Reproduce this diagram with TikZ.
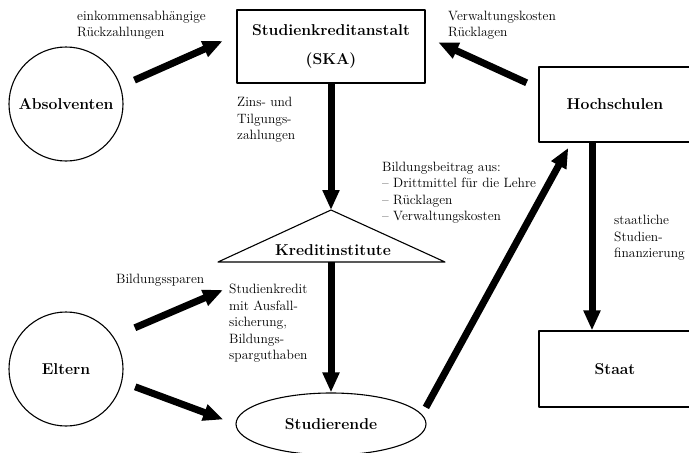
\documentclass[tikz,border=0pt]{standalone}
\usetikzlibrary{arrows.meta,shapes.geometric}
\newcommand{\klein}{\fontsize{13.5}{16.5}\selectfont}
\newcommand{\fett}{\fontsize{15.7}{29}\selectfont\bfseries}

\begin{document}
\begin{tikzpicture}[line join=round,x=1pt,y=-1pt,
  kasten/.style={draw,line width=1.1pt,inner sep=0pt,align=center},
  kreis/.style={draw,circle,line width=1.1pt,inner sep=0pt,minimum size=114pt},
  fluss/.style={line width=7pt,line cap=butt,-{Triangle[width=16pt,length=20pt]}},
  notiz/.style={anchor=west,align=left,inner sep=0pt,font=\klein}]
\useasboundingbox (0,0) rectangle (689,453);
\clip (0,0) rectangle (689,453);
%\draw [color=lightgray,step=50] (0,0) grid (689,453);
\node[kasten,minimum width=188pt,minimum height=73pt,font=\fett] (ska) at (331,46.5) {Studienkreditanstalt\\(SKA)};
\node[kasten,minimum width=152pt,minimum height=75pt,font=\fett] (hoch) at (615,104.5) {Hochschulen};
\node[kasten,minimum width=152pt,minimum height=76pt,font=\fett] (staat) at (615,369) {Staat};
\node[kreis,font=\fett] (absolv) at (66,104) {Absolventen};
\node[kreis,font=\fett] (eltern) at (66,369) {Eltern};
\node[draw,ellipse,line width=1.1pt,inner sep=0pt,minimum width=190pt,minimum height=62pt,font=\fett] (stud) at (331,424) {Studierende};
% Kreditinstitute als Dreieck
\coordinate (kapex) at (331,210);
\coordinate (kbase) at (331,262);
\draw[line width=1.1pt] (kapex) -- (218,262) -- (445,262) -- cycle;
\node[inner sep=0pt,font=\fett] (kredit) at (333,250) {Kreditinstitute};
\coordinate (sparziel) at (223,290);
\draw[fluss,shorten <=15pt,shorten >=15pt] (absolv.18) -- (ska.173);
\draw[fluss,shorten <=13pt,shorten >=14pt] (hoch.168) -- (ska.6);
\draw[fluss] (ska.south) -- (kapex);
\draw[fluss] (kbase) -- (stud.north);
\draw[fluss,shorten <=23pt] (eltern.34) -- (sparziel);
\draw[fluss,shorten <=14pt,shorten >=13pt] (eltern.-13) -- (stud.west);
\draw[fluss,shorten <=8pt,shorten >=6pt] (stud.6) -- (hoch.221);
\draw[fluss] ([xshift=-23pt]hoch.south) -- ([xshift=-23pt]staat.north);
\node[notiz] (t1) at (77,25) {einkommensabhängige\\Rückzahlungen};
\node[notiz] (t2) at (448,25) {Verwaltungskosten\\Rücklagen};
\node[notiz] (t3) at (237,120) {Zins- und\\Tilgungs-\\zahlungen};
\node[notiz] (t4) at (382,192.5) {Bildungsbeitrag aus:\\– Drittmittel für die Lehre\\– Rücklagen\\– Verwaltungskosten};
\node[notiz] (t5) at (116,280) {Bildungssparen};
\node[notiz] (t6) at (229,323.5) {Studienkredit\\mit Ausfall-\\sicherung,\\Bildungs-\\sparguthaben};
\node[notiz] (t7) at (614,238) {staatliche\\Studien-\\finanzierung};
\end{tikzpicture}
\end{document}
